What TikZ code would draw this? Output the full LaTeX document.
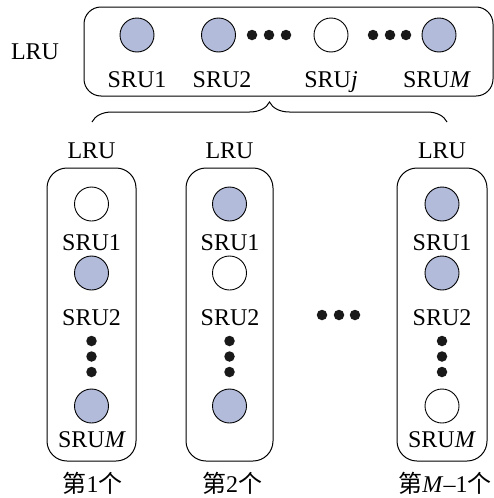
\documentclass[tikz,border=0pt]{standalone}
\usepackage{fontspec}
\setmainfont{Liberation Serif}
\newfontfamily\cjk{Noto Sans CJK SC}
\usetikzlibrary{decorations.pathreplacing}
\definecolor{srublue}{HTML}{B3BBDB}
\tikzset{
  unit/.style={circle, draw=black, line width=0.9pt, minimum size=34pt, inner sep=0pt},
  busy/.style={unit, fill=srublue},
  idle/.style={unit, fill=white},
  dot/.style={circle, fill=black!90, minimum size=10.5pt, inner sep=0pt},
  lab/.style={anchor=base, inner sep=0pt, font=\fontsize{24}{28}\selectfont},
  cjklab/.style={anchor=base, inner sep=0pt, font=\fontsize{24}{28}\selectfont\cjk},
  frame/.style={draw=black, line width=1pt, rounded corners=17pt},
}
\begin{document}
\begin{tikzpicture}[x=1pt, y=-1pt]
\useasboundingbox (0,0) rectangle (494,498);

% upper LRU with its SRUs in a row
\draw[frame] (84,7) rectangle (493,96);
\coordinate (topL) at (92,122);
\coordinate (topR) at (447,122);
\node[lab] (lruTop) at (35,59) {LRU};
\node[busy] (a1) at (137,35) {};
\node[busy] (a2) at (218.5,35) {};
\node[idle] (aj) at (331,35) {};
\node[busy] (aM) at (439,35) {};
\node[dot] (d1) at (252,35) {};
\node[dot] (d2) at (269,35) {};
\node[dot] (d3) at (286,35) {};
\node[dot] (d4) at (373,35) {};
\node[dot] (d5) at (390,35) {};
\node[dot] (d6) at (406,35) {};
\node[lab] (la1) at (137,87) {SRU1};
\node[lab] (la2) at (222,87) {SRU2};
\node[lab] (laj) at (331,87) {SRU\textit{j}};
\node[lab] (laM) at (437,87) {SRU\textit{M}};

% brace spreading to the lower LRUs
\draw[line width=1pt, decorate, decoration={brace, amplitude=20pt}] (topL) -- (topR);

% lower LRUs, one column each
\draw[frame, rounded corners=20pt] (47,168) rectangle (136,461);
\draw[frame, rounded corners=20pt] (186,168) rectangle (273,461);
\draw[frame, rounded corners=20pt] (397,168) rectangle (487,461);

\node[lab] (c1h) at (91.5,158) {LRU};
\node[lab] (c2h) at (229.5,158) {LRU};
\node[lab] (c3h) at (442,158) {LRU};

% column 1
\node[idle] (c1a) at (91.5,204) {};
\node[lab] (c1la) at (91.5,250) {SRU1};
\node[busy] (c1b) at (91.5,273) {};
\node[lab] (c1lb) at (91.5,325) {SRU2};
\node[dot] (c1d1) at (91.5,341) {};
\node[dot] (c1d2) at (91.5,356.5) {};
\node[dot] (c1d3) at (91.5,372) {};
\node[busy] (c1M) at (91.5,406) {};
\node[lab] (c1lM) at (92,447) {SRU\textit{M}};

% column 2
\node[busy] (c2a) at (229.5,204) {};
\node[lab] (c2la) at (230,250) {SRU1};
\node[idle] (c2b) at (229.5,273) {};
\node[lab] (c2lb) at (230,325) {SRU2};
\node[dot] (c2d1) at (229.5,341) {};
\node[dot] (c2d2) at (229.5,356.5) {};
\node[dot] (c2d3) at (229.5,372) {};
\node[busy] (c2M) at (229.5,406) {};

% between columns
\node[dot] (m1) at (322,315) {};
\node[dot] (m2) at (339,315) {};
\node[dot] (m3) at (355,315) {};

% column M-1
\node[busy] (c3a) at (442,204) {};
\node[lab] (c3la) at (442,250) {SRU1};
\node[busy] (c3b) at (442,273) {};
\node[lab] (c3lb) at (442,325) {SRU2};
\node[dot] (c3d1) at (442,341) {};
\node[dot] (c3d2) at (442,356.5) {};
\node[dot] (c3d3) at (442,372) {};
\node[idle] (c3M) at (442,406) {};
\node[lab] (c3lM) at (442,447) {SRU\textit{M}};

% captions
\node[cjklab] (n1) at (92.5,492) {第{\rmfamily 1}个};
\node[cjklab] (n2) at (232,492) {第{\rmfamily 2}个};
\node[cjklab] (n3) at (445,492) {第{\rmfamily\textit{M}–1}个};
\end{tikzpicture}
\end{document}
